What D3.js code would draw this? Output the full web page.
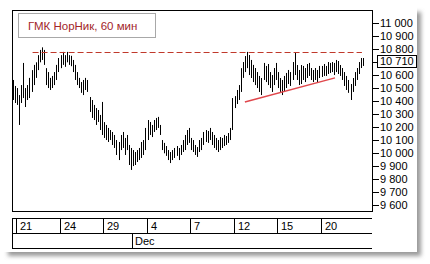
<!DOCTYPE html>
<html>
<head>
<meta charset="utf-8">
<script src="https://cdn.jsdelivr.net/npm/d3@7"></script>
<style>
body {margin:0; background:#fff;}
text {font-family:"Liberation Sans", Arial, sans-serif;}
</style>
</head>
<body>
<script>
var w = 430;
var h = 264;

// hourly bars, 7 per trading day (2 bars from Nov 20 first)
var highs = [10564,10518,
  10502,10448,10525,10695,10502,10525,10580,
  10640,10680,10700,10755,10795,10815,10795,
  10655,10625,10580,10595,10625,10680,10733,
  10755,10780,10755,10780,10755,10750,10718,
  10680,10625,10580,10548,10564,10580,10564,
  10433,10410,10372,10348,10333,10295,10395,
  10240,10218,10195,10179,10164,10141,10102,
  10087,10141,10164,10118,10141,10064,10041,
  10025,10010,10025,10041,10087,10102,10195,
  10256,10241,10218,10256,10272,10280,10218,
  10102,10080,10056,10025,10010,10025,10041,
  10056,10041,10064,10102,10141,10179,10195,
  10118,10102,10064,10048,10102,10118,10164,
  10179,10172,10195,10164,10141,10118,10102,
  10125,10118,10141,10133,10156,10195,10425,
  10440,10487,10525,10655,10702,10748,10780,
  10756,10718,10680,10656,10625,10595,10579,
  10695,10672,10687,10625,10602,10656,10695,
  10625,10579,10564,10595,10618,10641,10625,
  10702,10772,10679,10641,10679,10672,10656,
  10687,10695,10656,10641,10656,10641,10672,
  10672,10687,10672,10702,10695,10702,10695,
  10718,10710,10679,10656,10625,10595,10564,
  10533,10579,10625,10656,10702,10733,10733];
var lows = [10410,10387,
  10372,10218,10387,10425,10356,10410,10425,
  10472,10525,10580,10640,10700,10718,10680,
  10525,10502,10487,10502,10525,10564,10625,
  10655,10680,10665,10700,10680,10670,10625,
  10564,10525,10502,10465,10448,10487,10472,
  10318,10272,10256,10218,10241,10179,10141,
  10118,10102,10087,10102,10064,10041,9987,
  9948,10025,10041,9987,10025,9910,9872,
  9902,9910,9933,9948,9964,9987,10025,
  10102,10141,10125,10164,10179,10195,10141,
  10025,10000,9980,9948,9925,9948,9964,
  9980,9948,9987,10010,10025,10064,10080,
  10025,10010,9987,9972,10010,10025,10064,
  10087,10080,10102,10064,10041,10025,10010,
  10025,10041,10056,10064,10080,10102,10179,
  10348,10379,10410,10472,10580,10625,10655,
  10602,10579,10548,10525,10502,10472,10448,
  10564,10548,10525,10502,10472,10525,10564,
  10502,10472,10448,10472,10502,10533,10518,
  10564,10602,10564,10525,10533,10564,10548,
  10579,10595,10564,10548,10564,10548,10579,
  10587,10595,10595,10610,10618,10625,10602,
  10625,10610,10595,10564,10518,10487,10465,
  10410,10472,10518,10564,10610,10656,10672];
var barsPerDay = 7;
var preBars = 2;

var dayLabels = ["21","24","29","4","7","12","15","20"];
var labelDays = [0,3,6,9,12,15,18,21];
var monthLabels = ["Dec"];
var monthDays = [8];

var priceTicks = d3.range(9600, 11001, 100);
var lastPrice = 10710;
var resistance = 10780;          // dashed level
var resistanceFrom = 8, resistanceTo = 167;
var trendIdx = [110.5, 154];     // support trend line
var trendVal = [10395, 10580];
var title = "ГМК НорНик, 60 мин";

var x = d3.scaleLinear().domain([0, 24 * barsPerDay]).range([16, 364]);
var y = d3.scaleLinear().domain([9600, 11000]).range([205.3, 23.3]);
var fmt = d3.formatLocale({decimal: ",", thousands: " ", grouping: [3], currency: ["", ""]}).format(",");

var svg = d3.select("body").append("svg")
    .attr("width", w)
    .attr("height", h);

// panel with shadow
var defs = svg.append("defs");
defs.append("filter").attr("id", "blur")
    .append("feGaussianBlur").attr("stdDeviation", 2);
svg.append("rect")
    .attr("x", 8).attr("y", 12).attr("width", 413).attr("height", 244)
    .style("fill", "#9a9a9a").attr("filter", "url(#blur)");
svg.append("rect")
    .attr("x", 0).attr("y", 0).attr("width", 417).attr("height", 252)
    .style("fill", "#fff");

// plot frame
svg.append("rect")
    .attr("x", 12.5).attr("y", 10.5).attr("width", 360).attr("height", 201)
    .style("fill", "none").style("stroke", "#000");

// bars
var bars = d3.range(highs.length).map(function(i) {
    return {i: i - preBars, hi: highs[i], lo: lows[i]};
});
svg.selectAll(".bar")
    .data(bars)
    .enter()
    .append("line")
    .attr("class", "bar")
    .attr("x1", function(d) { return Math.round(x(d.i + 0.5)) + 0.5; })
    .attr("x2", function(d) { return Math.round(x(d.i + 0.5)) + 0.5; })
    .attr("y1", function(d) { return y(d.hi); })
    .attr("y2", function(d) { return y(d.lo); })
    .style("stroke", "#000")
    .style("stroke-width", 1);

// resistance dashed line
svg.append("line")
    .attr("x1", x(resistanceFrom)).attr("x2", x(resistanceTo))
    .attr("y1", Math.round(y(resistance)) + 0.5).attr("y2", Math.round(y(resistance)) + 0.5)
    .style("stroke", "#c0392b").style("stroke-width", 1)
    .style("stroke-dasharray", "6,3");

// trend line
svg.append("line")
    .attr("x1", x(trendIdx[0])).attr("x2", x(trendIdx[1]))
    .attr("y1", y(trendVal[0])).attr("y2", y(trendVal[1]))
    .style("stroke", "#e0474c").style("stroke-width", 1.5);

// title box
svg.append("rect")
    .attr("x", 18.5).attr("y", 13.5).attr("width", 137).attr("height", 24)
    .style("fill", "#fff").style("stroke", "#a8a8a8");
svg.append("text")
    .attr("x", 28).attr("y", 29.5)
    .style("font-size", "11.5px").style("fill", "#a3262a")
    .text(title);

// right price axis
var axis = svg.append("g");
axis.selectAll("line")
    .data(priceTicks)
    .enter()
    .append("line")
    .attr("x1", 372).attr("x2", 379)
    .attr("y1", function(d) { return Math.round(y(d)) + 0.5; })
    .attr("y2", function(d) { return Math.round(y(d)) + 0.5; })
    .style("stroke", "#000");
axis.selectAll("text")
    .data(priceTicks)
    .enter()
    .append("text")
    .attr("x", 380)
    .attr("y", function(d) { return y(d) + 4; })
    .style("font-size", "11px")
    .style("fill", "#000")
    .text(function(d) { return fmt(d); });

// last price tag
svg.append("rect")
    .attr("x", 377.5).attr("y", Math.round(y(lastPrice)) - 5.5)
    .attr("width", 39).attr("height", 12)
    .style("fill", "#fff").style("stroke", "#000");
svg.append("text")
    .attr("x", 380).attr("y", y(lastPrice) + 4)
    .style("font-size", "11px")
    .text(fmt(lastPrice));

// date axis
var dateAxis = svg.append("g");
[218.5, 233.5, 248.5].forEach(function(yy) {
    dateAxis.append("line")
        .attr("x1", 12).attr("x2", 372).attr("y1", yy).attr("y2", yy)
        .style("stroke", "#000");
});
dateAxis.append("line")
    .attr("x1", 12.5).attr("x2", 12.5).attr("y1", 218).attr("y2", 249)
    .style("stroke", "#000");
dateAxis.selectAll(".dayTick")
    .data(labelDays)
    .enter()
    .append("line")
    .attr("class", "dayTick")
    .attr("x1", function(d) { return Math.round(x(d * barsPerDay)) + 0.5; })
    .attr("x2", function(d) { return Math.round(x(d * barsPerDay)) + 0.5; })
    .attr("y1", 218).attr("y2", 233)
    .style("stroke", "#000");
dateAxis.selectAll(".dayLabel")
    .data(labelDays)
    .enter()
    .append("text")
    .attr("class", "dayLabel")
    .attr("x", function(d) { return Math.round(x(d * barsPerDay)) + 4; })
    .attr("y", 230)
    .style("font-size", "11px")
    .text(function(d, i) { return dayLabels[i]; });
dateAxis.selectAll(".monTick")
    .data(monthDays)
    .enter()
    .append("line")
    .attr("class", "monTick")
    .attr("x1", function(d) { return Math.round(x(d * barsPerDay)) + 0.5; })
    .attr("x2", function(d) { return Math.round(x(d * barsPerDay)) + 0.5; })
    .attr("y1", 233).attr("y2", 248)
    .style("stroke", "#000");
dateAxis.selectAll(".monLabel")
    .data(monthDays)
    .enter()
    .append("text")
    .attr("class", "monLabel")
    .attr("x", function(d) { return Math.round(x(d * barsPerDay)) + 3; })
    .attr("y", 245)
    .style("font-size", "11px")
    .text(function(d, i) { return monthLabels[i]; });
</script>
</body>
</html>
